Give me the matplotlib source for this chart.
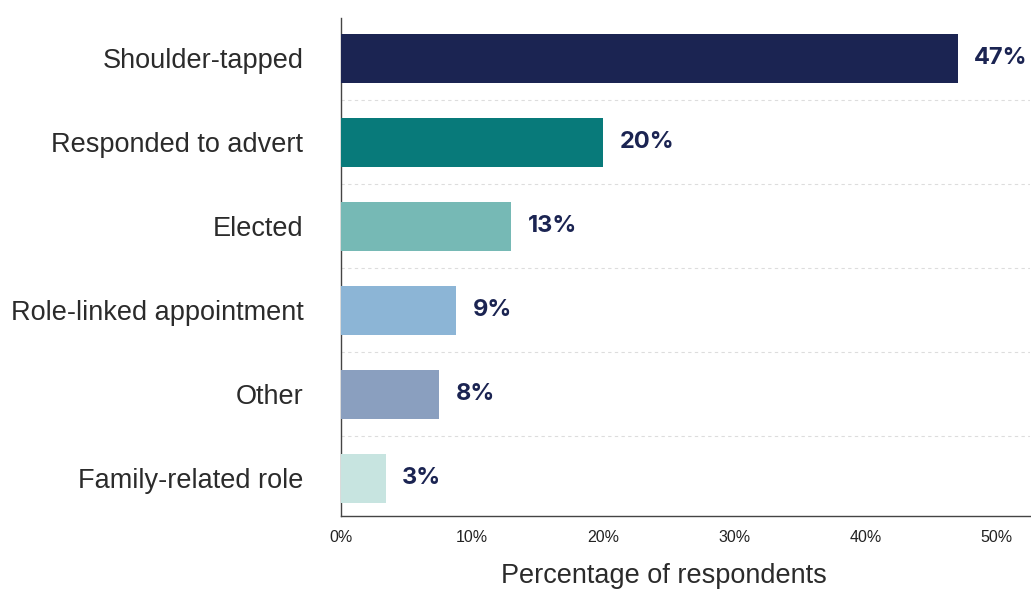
import matplotlib.pyplot as plt

# Данные
categories = ["Shoulder-tapped", "Responded to advert", "Elected",
              "Role-linked appointment", "Other", "Family-related role"]
values = [47, 20, 13, 8.8, 7.5, 3.4]
value_labels = ["47%", "20%", "13%", "9%", "8%", "3%"]
bar_colors = ["#1b2452", "#087a7a", "#76b9b5", "#8cb5d6", "#8a9fbf", "#c7e4e0"]
x_ticks = [0, 10, 20, 30, 40, 50]
x_tick_labels = ["0%", "10%", "20%", "30%", "40%", "50%"]


def plot_chart():
    fig = plt.figure(figsize=(10.31, 5.92), dpi=100)
    ax = fig.add_axes([0.3307, 0.1284, 0.668, 0.8412])

    y = list(range(len(categories)))
    ax.barh(y, values, height=0.58, color=bar_colors, zorder=3)

    # Подписи значений
    for yi, v, lab in zip(y, values, value_labels):
        ax.annotate(lab, (v, yi), xytext=(12, 0), textcoords="offset points",
                    va="center", ha="left", fontsize=17, fontweight="bold",
                    color="#1b2452", family=["Inter", "DejaVu Sans"])

    # Пунктирные линии между полосами
    for yi in y[:-1]:
        ax.axhline(yi + 0.5, color="#dddddd", linestyle=(0, (3, 3)),
                   linewidth=0.8, zorder=1)

    ax.set_xlim(0, 52.5)
    ax.set_ylim(5.45, -0.48)
    ax.set_yticks(y)
    ax.set_yticklabels(categories, fontsize=19.5, color="#2b2b2b",
                       family="Liberation Sans")
    ax.set_xticks(x_ticks)
    ax.set_xticklabels(x_tick_labels, fontsize=11.5, color="#222222",
                       family="Liberation Sans")
    ax.tick_params(axis="y", length=0, pad=27)
    ax.tick_params(axis="x", length=0, pad=10)

    ax.set_xlabel("Percentage of respondents", fontsize=19.5, color="#2b2b2b",
                  family="Liberation Sans")
    ax.xaxis.set_label_coords(0.469, -0.095)

    for side in ["top", "right"]:
        ax.spines[side].set_visible(False)
    for side in ["left", "bottom"]:
        ax.spines[side].set_color("#444444")
        ax.spines[side].set_linewidth(1.0)

    fig.savefig("out.png", dpi=100)


if __name__ == "__main__":
    plot_chart()
